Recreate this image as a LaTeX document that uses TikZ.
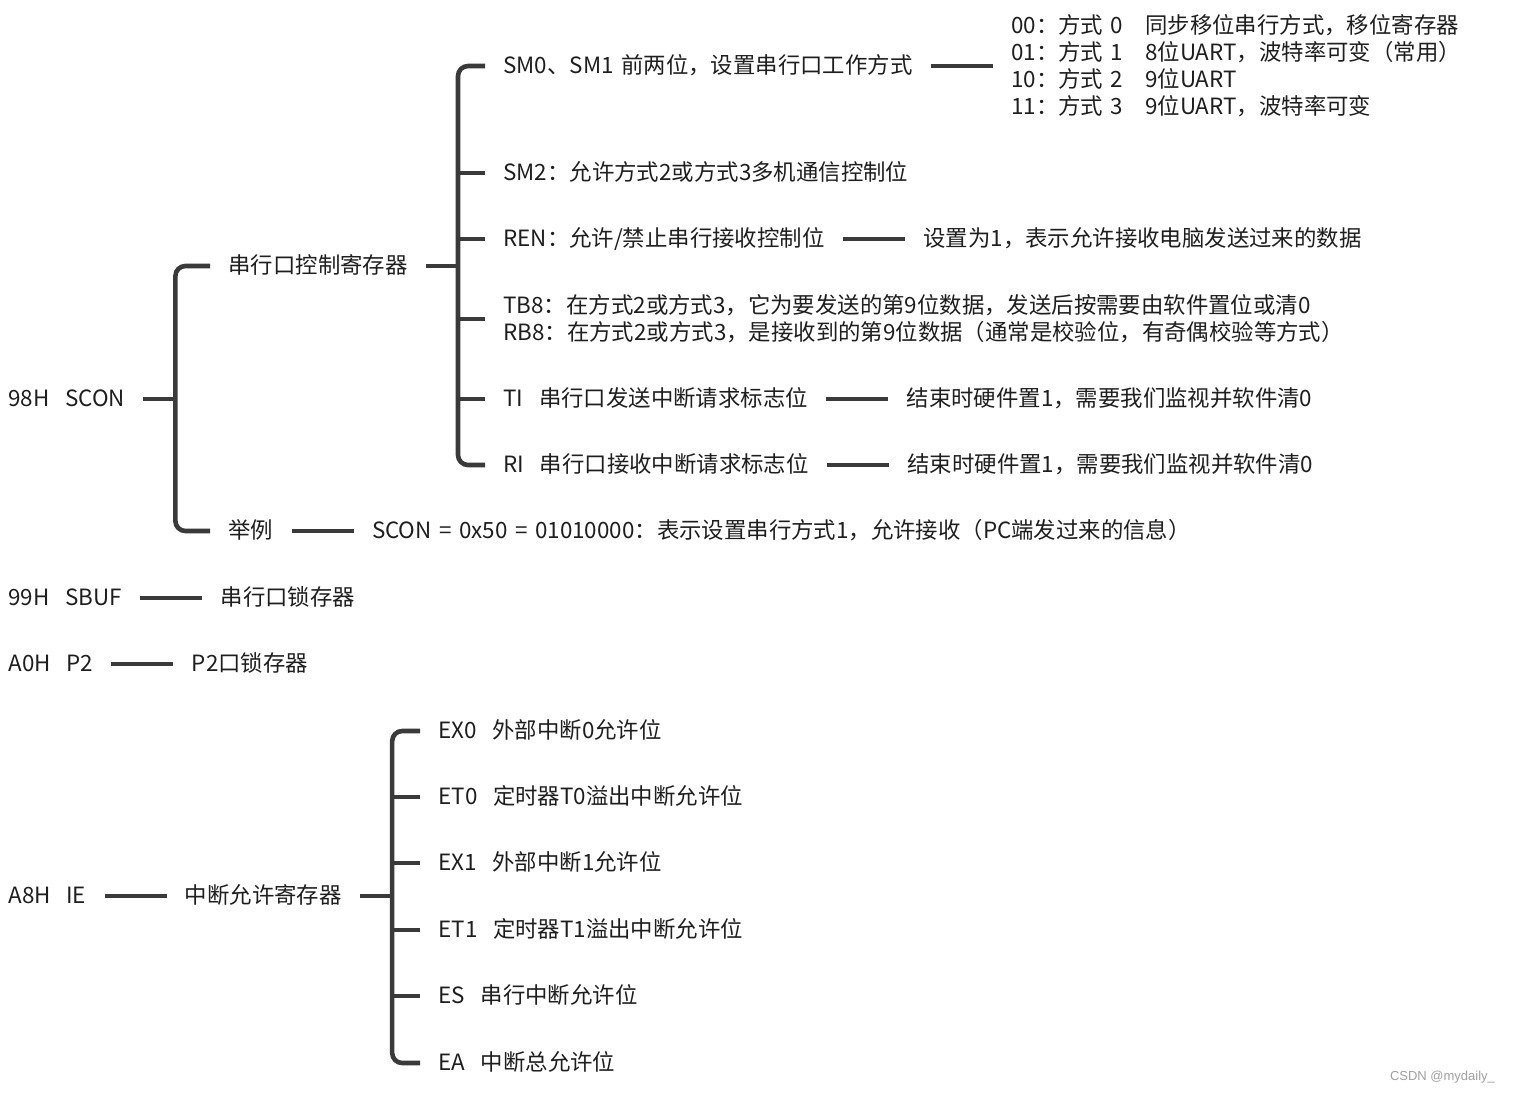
\documentclass[tikz,border=0pt]{standalone}
\usepackage{fontspec}
\setmainfont{Noto Sans CJK SC}[WordSpace=1.5]
\newfontfamily\markfont{Liberation Sans}
\usepackage{xcolor}
\usetikzlibrary{positioning}

\definecolor{ink}{HTML}{1E1E1E}
\definecolor{linegray}{HTML}{3A3A3A}
\newcommand{\regsp}{\hspace{0.7em}}
\newcommand{\modecol}[1]{\makebox[67pt][l]{#1}}

\begin{document}
\begin{tikzpicture}[
    x=0.5pt, y=-0.5pt,
    item/.style={anchor=west, inner xsep=9pt, inner ysep=0pt, text height=0.88em, text depth=0.12em, font=\fontsize{11.2}{13.5}\selectfont, text=ink},
    multi/.style={item, align=left, text height=, text depth=},
    link/.style={line width=2.3pt, draw=linegray},
    bracket/.style={link, rounded corners=5pt},
]
    \useasboundingbox (0,0) rectangle (1516,1094);

    % SCON and its two groups
    \node[item] (scon) at (-10,399) {98H\regsp SCON};
    \node[item] (sconctl) at (210,266) {串行口控制寄存器};
    \node[item] (example) at (210,531) {举例};
    \node[item, right=31pt of example] (examplev) {SCON = 0x50 = 01010000：表示设置串行方式1，允许接收（PC端发过来的信息）};

    % SCON bits
    \node[item] (sm) at (485,66) {SM0、SM1 前两位，设置串行口工作方式};
    \node[multi, right=31pt of sm] (smmode) {\modecol{00：方式 0}同步移位串行方式，移位寄存器\\
        \modecol{01：方式 1}8位UART，波特率可变（常用）\\
        \modecol{10：方式 2}9位UART\\
        \modecol{11：方式 3}9位UART，波特率可变};
    \node[item] (smtwo) at (485,173) {SM2：允许方式2或方式3多机通信控制位};
    \node[item] (ren) at (485,239) {REN：允许/禁止串行接收控制位};
    \node[item, right=31pt of ren] (renv) {设置为1，表示允许接收电脑发送过来的数据};
    \node[multi] (tbrb) at (485,319) {TB8：在方式2或方式3，它为要发送的第9位数据，发送后按需要由软件置位或清0\\
        RB8：在方式2或方式3，是接收到的第9位数据（通常是校验位，有奇偶校验等方式）};
    \node[item] (ti) at (485,399) {TI\regsp 串行口发送中断请求标志位};
    \node[item, right=31pt of ti] (tiv) {结束时硬件置1，需要我们监视并软件清0};
    \node[item] (ri) at (485,465) {RI\regsp 串行口接收中断请求标志位};
    \node[item, right=31pt of ri] (riv) {结束时硬件置1，需要我们监视并软件清0};

    % other registers
    \node[item] (sbuf) at (-10,598) {99H\regsp SBUF};
    \node[item, right=31pt of sbuf] (sbufv) {串行口锁存器};
    \node[item] (ptwo) at (-10,664) {A0H\regsp P2};
    \node[item, right=31pt of ptwo] (ptwov) {P2口锁存器};
    \node[item] (ie) at (-10,896) {A8H\regsp IE};
    \node[item, right=31pt of ie] (iectl) {中断允许寄存器};

    % IE bits
    \node[item] (exzero) at (420,731) {EX0\regsp 外部中断0允许位};
    \node[item] (etzero) at (420,797) {ET0\regsp 定时器T0溢出中断允许位};
    \node[item] (exone) at (420,863) {EX1\regsp 外部中断1允许位};
    \node[item] (etone) at (420,930) {ET1\regsp 定时器T1溢出中断允许位};
    \node[item] (es) at (420,996) {ES\regsp 串行中断允许位};
    \node[item] (ea) at (420,1063) {EA\regsp 中断总允许位};

    % fork points
    \coordinate[right=16pt of scon.east] (sconfork);
    \coordinate[right=16pt of sconctl.east] (ctlfork);
    \coordinate[right=16pt of iectl.east] (iefork);

    % SCON bracket
    \draw[link] (scon.east) -- (sconfork);
    \draw[bracket] (sconctl.west) -- (sconfork |- sconctl.west) -- (sconfork |- example.west) -- (example.west);
    \draw[link] (example) -- (examplev);

    % control register bracket
    \draw[link] (sconctl.east) -- (ctlfork);
    \draw[bracket] (sm.west) -- (ctlfork |- sm.west) -- (ctlfork |- ri.west) -- (ri.west);
    \draw[link] (ctlfork |- smtwo.west) -- (smtwo.west);
    \draw[link] (ctlfork |- ren.west) -- (ren.west);
    \draw[link] (ctlfork |- tbrb.west) -- (tbrb.west);
    \draw[link] (ctlfork |- ti.west) -- (ti.west);
    \draw[link] (sm) -- (smmode);
    \draw[link] (ren) -- (renv);
    \draw[link] (ti) -- (tiv);
    \draw[link] (ri) -- (riv);

    % SBUF, P2
    \draw[link] (sbuf) -- (sbufv);
    \draw[link] (ptwo) -- (ptwov);

    % IE bracket
    \draw[link] (ie) -- (iectl);
    \draw[link] (iectl.east) -- (iefork);
    \draw[bracket] (exzero.west) -- (iefork |- exzero.west) -- (iefork |- ea.west) -- (ea.west);
    \draw[link] (iefork |- etzero.west) -- (etzero.west);
    \draw[link] (iefork |- exone.west) -- (exone.west);
    \draw[link] (iefork |- etone.west) -- (etone.west);
    \draw[link] (iefork |- es.west) -- (es.west);

    \node[anchor=east, font=\markfont\fontsize{6.5}{8}\selectfont, text=gray!75] (credit) at (1502,1077) {CSDN @mydaily\_};
\end{tikzpicture}
\end{document}
